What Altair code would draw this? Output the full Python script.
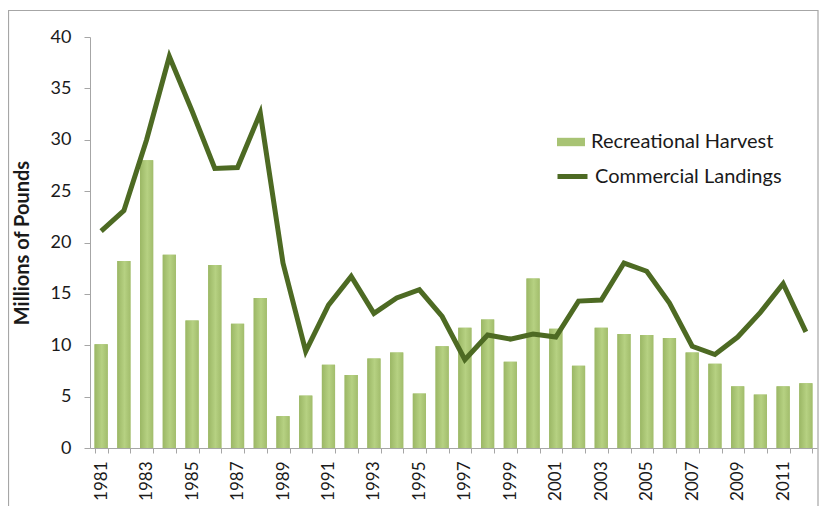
import altair as alt
import pandas as pd

years = [str(y) for y in range(1981, 2013)]
recreational = [10.1, 18.2, 28.0, 18.8, 12.4, 17.8, 12.1, 14.6, 3.1, 5.1,
                8.1, 7.1, 8.7, 9.3, 5.3, 9.9, 11.7, 12.5, 8.4, 16.5,
                11.6, 8.0, 11.7, 11.1, 11.0, 10.7, 9.3, 8.2, 6.0, 5.2,
                6.0, 6.3]
commercial = [21.1, 23.1, 30.0, 38.1, 32.8, 27.2, 27.3, 32.6, 18.0, 9.4,
              13.9, 16.7, 13.1, 14.6, 15.4, 12.8, 8.6, 11.0, 10.6, 11.1,
              10.8, 14.3, 14.4, 18.0, 17.2, 14.1, 9.9, 9.1, 10.8, 13.2,
              16.0, 11.3]

df = pd.DataFrame({
    "year": years,
    "rec": recreational,
    "com": commercial,
    "rec_name": ["Recreational Harvest"] * len(years),
    "com_name": ["Commercial Landings"] * len(years),
})

FONT = "Lato"
W, H = 727, 411

x_enc = alt.X(
    "year:O",
    sort=years,
    scale=alt.Scale(paddingInner=0.42, paddingOuter=0.2),
    axis=alt.Axis(
        title=None,
        labelAngle=-90,
        labelAlign="right",
        labelBaseline="middle",
        labelFont=FONT,
        labelFontSize=17,
        labelColor="#1a1a1a",
        labelPadding=8,
        labelOverlap=False,
        labelExpr="toNumber(datum.value) % 2 == 1 ? datum.label : ''",
        tickBand="extent",
        tickSize=5,
        tickColor="#a6a6a6",
        domainColor="#a6a6a6",
        grid=False,
    ),
)

y_axis = alt.Axis(
    title="Millions of Pounds",
    titleFont=FONT,
    titleFontSize=20,
    titleFontWeight="bold",
    titleColor="#1a1a1a",
    titlePadding=18,
    values=[0, 5, 10, 15, 20, 25, 30, 35, 40],
    labelFont=FONT,
    labelFontSize=18,
    labelColor="#1a1a1a",
    labelPadding=13,
    tickSize=6,
    tickColor="#a6a6a6",
    domainColor="#a6a6a6",
    grid=False,
)

base = alt.Chart(df)

bars_legend = base.mark_bar().encode(
    x=x_enc,
    y=alt.Y("rec:Q", scale=alt.Scale(domain=[0, 40]), axis=y_axis),
    fill=alt.Fill(
        "rec_name:N",
        scale=alt.Scale(domain=["Recreational Harvest"], range=["#a8c374"]),
        legend=alt.Legend(
            title=None,
            orient="none",
            legendX=467,
            legendY=91,
            padding=0,
            labelFont=FONT,
            labelFontSize=20,
            labelColor="#1a1a1a",
            labelLimit=400,
            labelOffset=6,
            symbolType="M-1,-0.3H1V0.3H-1Z",
            symbolSize=784,
            symbolStrokeWidth=0,
            symbolOpacity=1,
        ),
    ),
)

bars = base.mark_bar(
    fill=alt.Gradient(
        gradient="linear",
        stops=[
            alt.GradientStop(color="#9bb765", offset=0),
            alt.GradientStop(color="#b6d182", offset=0.55),
            alt.GradientStop(color="#a2bd6c", offset=1),
        ],
        x1=0, x2=1, y1=0, y2=0,
    )
).encode(
    x=x_enc,
    y=alt.Y("rec:Q", scale=alt.Scale(domain=[0, 40])),
)

line = base.mark_line(strokeWidth=5, strokeJoin="miter").encode(
    x=x_enc,
    y=alt.Y("com:Q", scale=alt.Scale(domain=[0, 40])),
    stroke=alt.Stroke(
        "com_name:N",
        scale=alt.Scale(domain=["Commercial Landings"], range=["#4d6a23"]),
        legend=alt.Legend(
            title=None,
            orient="none",
            legendX=465,
            legendY=122,
            padding=0,
            labelFont=FONT,
            labelFontSize=20,
            labelColor="#1a1a1a",
            labelLimit=400,
            labelOffset=5,
            symbolType="stroke",
            symbolSize=900,
            symbolStrokeWidth=5,
        ),
    ),
)

frame = alt.Chart(pd.DataFrame({"k": [0]})).mark_rect(
    fill="transparent", stroke="#a6a6a6", strokeWidth=1.2
).encode(
    x=alt.value(-81.5), x2=alt.value(728), y=alt.value(-26.5), y2=alt.value(480)
)

chart = alt.layer(frame, bars_legend, bars, line).resolve_scale(
    fill="independent", stroke="independent"
).properties(
    width=W,
    height=H,
    padding={"left": 82, "top": 29, "right": 2, "bottom": 58},
    autosize=alt.AutoSizeParams(type="none"),
    background="white",
).configure_view(stroke=None)

chart.save("out.html", embed_options={"renderer": "svg", "actions": False})
